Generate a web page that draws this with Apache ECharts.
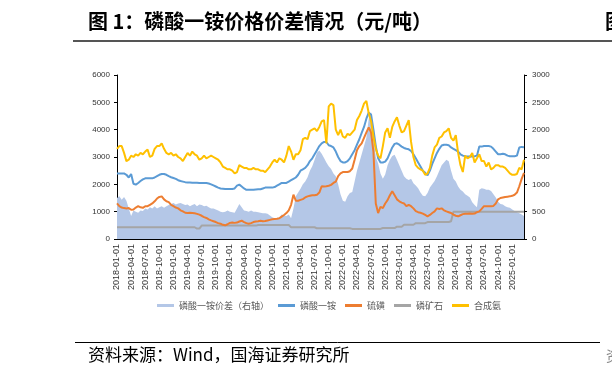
<!DOCTYPE html>
<html>
<head>
<meta charset="utf-8">
<script src="https://cdn.jsdelivr.net/npm/echarts@6/dist/echarts.min.js"></script>
<style>
html,body{margin:0;padding:0;background:#fff;}
#c{width:612px;height:379px;}
</style>
</head>
<body>
<div id="c"></div>
<script>
// ---- categories: semi-monthly dates 2018-01-01 .. 2025-03-15 ----
const dates = [];
(function(){
  for (let y = 2018; y <= 2025; y++) {
    for (let m = 1; m <= 12; m++) {
      for (const d of ['01','15']) {
        if (dates.length < 174) dates.push(y + '-' + String(m).padStart(2,'0') + '-' + d);
      }
    }
  }
})();

// ---- series values (yuan/ton) ----
const mapPrice = [
  2400,2400,2400,2400,2350,2250,2380,2020,1990,2050,2120,2180,2220,2220,2220,2220,2250,2300,2350,2380,2380,2350,2300,2260,
  2230,2200,2150,2120,2100,2080,2070,2070,2060,2060,2060,2050,2050,2050,2050,2030,2000,1960,1920,1880,1850,1840,1830,1830,
  1830,1830,1850,1950,1990,1920,1850,1800,1800,1800,1800,1810,1820,1820,1850,1880,1880,1880,1880,1900,1950,2000,2050,2050,
  2050,2100,2150,2200,2250,2350,2500,2550,2600,2700,2850,2950,3100,3250,3400,3500,3550,3550,3430,3400,3350,3200,3000,2850,
  2800,2800,2850,2950,3100,3250,3450,3650,3880,4100,4400,4620,4550,4000,3400,2950,2800,2800,2830,2950,3150,3350,3480,3500,
  3450,3380,3330,3300,3280,3220,3100,2950,2800,2650,2500,2420,2330,2500,2750,2950,3150,3300,3420,3450,3450,3430,3350,3300,
  3250,3200,3100,3050,3030,3020,3020,3020,3030,3050,3380,3380,3400,3400,3400,3380,3300,3200,3100,3100,3120,3100,3050,3030,
  3030,3030,3050,3350,3370,3360
];
const sulfur = [
  1300,1200,1150,1130,1120,1130,1070,1080,1150,1200,1160,1140,1200,1200,1250,1300,1380,1480,1540,1560,1450,1380,1350,1250,
  1200,1150,1120,1050,1010,960,950,960,950,940,920,890,850,800,770,720,680,650,620,580,560,520,500,540,
  590,600,590,600,640,670,620,580,560,580,620,640,650,670,650,660,680,700,720,730,740,760,820,880,
  950,1050,1250,1620,1400,1400,1430,1460,1520,1560,1580,1600,1600,1620,1700,1930,1920,1930,1950,1980,2050,2100,2300,2400,
  2450,2450,2450,2480,2580,2900,3250,3400,3500,3700,3900,4080,3900,3200,1300,950,1180,1130,1300,1420,1600,1750,1600,1450,
  1380,1330,1300,1200,1250,1200,1120,1020,980,960,930,880,830,880,950,1010,1120,1100,1120,1050,1010,980,950,890,
  850,830,870,910,920,920,930,920,930,980,1010,1100,1200,1200,1200,1200,1210,1300,1450,1500,1520,1540,1550,1560,
  1580,1620,1700,1930,2200,2420
];
const phosRock = [
  430,430,430,430,430,430,430,430,430,430,430,430,430,430,430,430,430,430,430,430,430,430,430,430,
  430,430,430,430,430,430,430,430,430,430,380,380,490,490,490,490,490,490,490,490,490,490,490,490,
  490,490,490,490,490,490,490,490,490,490,490,490,510,510,510,510,510,510,510,510,510,510,510,510,
  510,510,430,430,430,430,430,430,430,430,430,430,430,390,390,390,390,390,390,390,390,390,390,390,
  390,390,390,390,370,370,370,370,370,370,370,370,370,370,370,370,370,400,400,400,400,400,400,450,
  450,450,520,520,520,520,520,580,580,580,580,580,620,620,620,620,620,620,620,620,620,620,650,1000,
  1000,1000,1000,1000,1000,1000,1000,1000,1000,1000,1000,1000,1000,1000,1000,1000,1000,1000,1000,1000,1000,1000,1000,1000,
  1000,1000,1000,1000,1000,1000
];
const ammonia = [
  3300,3400,3400,3150,2850,2900,3050,3000,3100,3050,3150,3100,3200,3270,3000,3050,3300,3400,3400,3500,3300,3150,3100,3150,
  3050,3100,3000,2950,2850,3000,3150,3050,3200,3100,3050,2900,2950,3050,2950,3000,3050,3000,2950,2900,2800,2650,2600,2550,
  2550,2500,2400,2450,2700,2650,2600,2600,2550,2550,2600,2550,2550,2500,2500,2450,2550,2650,2800,2900,2800,2950,2900,2800,
  3050,3400,3200,2900,3100,3100,3250,3650,3700,3650,3950,4000,4050,3950,4100,4300,4350,3500,4850,4950,4900,4000,3800,4000,
  3750,3700,3850,3800,3900,4000,4350,4500,4700,4950,5050,4600,4300,3750,3300,3050,2950,3400,3900,4050,3700,4100,4300,4450,
  4150,3900,3950,4150,4350,3550,3000,2700,2600,2550,2500,2350,2400,2600,3050,3350,3450,3700,3750,3900,3950,4050,3700,3600,
  3800,3150,2700,2450,3050,2950,3000,3150,2800,2950,3100,2850,2850,2650,2800,2550,2600,2700,2700,2650,2650,2600,2500,2400,
  2350,2350,2380,2600,2550,2900
];
// spread, right axis
const spread = [
  750,780,720,770,700,560,420,520,500,480,520,510,560,540,580,560,600,560,580,600,570,600,620,640,
  660,630,650,660,640,620,630,600,620,640,600,630,620,600,610,580,560,560,540,520,500,490,500,520,
  500,490,480,560,640,580,520,510,500,520,500,500,490,480,470,470,460,430,400,380,370,400,450,430,
  420,450,380,560,780,850,920,1000,1050,1130,1250,1330,1450,1580,1620,1560,1480,1400,1330,1280,1200,1150,1000,820,
  700,680,780,840,860,1050,1250,1400,1550,1700,1850,2200,2320,1900,1500,1380,1200,1100,1180,1350,1450,1520,1540,1450,
  1350,1250,1150,1100,1080,1100,1020,980,930,850,790,780,840,940,1000,1060,1150,1250,1350,1400,1450,1420,1250,1100,
  1050,960,900,870,820,790,760,670,620,580,900,930,920,900,900,880,820,760,680,640,630,600,580,570,
  540,510,490,470,450,420
];
const seriesNames = ['磷酸一铵价差（右轴）','磷酸一铵','硫磺','磷矿石','合成氨'];
const leftTicks = {min:0, max:6000, interval:1000};
const rightTicks = {min:0, max:3000, interval:500};

const isQuarterStart = function(idx, val){
  const v = dates[idx];
  return /-(01|04|07|10)-01$/.test(v);
};
const plain = function(v){ return String(v); };

const chart = echarts.init(document.getElementById('c'), null, {renderer:'canvas'});
const axisFont = 'Liberation Sans, Arial, sans-serif';
chart.setOption({
  animation:false,
  backgroundColor:'#fff',
  grid:{left:117, right:88, top:75, bottom:140},
  legend:{
    data:seriesNames,
    left:152, top:296,
    icon:'rect', itemWidth:17, itemHeight:3, itemGap:9,
    textStyle:{fontSize:9, color:'#595959', fontFamily:'Noto Sans CJK SC'}
  },
  xAxis:{
    type:'category', data:dates, boundaryGap:false,
    axisLine:{lineStyle:{color:'#000', width:1}},
    axisTick:{interval:isQuarterStart, inside:true, length:3, lineStyle:{color:'#000'}},
    axisLabel:{interval:isQuarterStart, rotate:90, fontSize:9, color:'#333', margin:5, fontFamily:axisFont},
    splitLine:{show:false}
  },
  yAxis:[
    {type:'value', min:leftTicks.min, max:leftTicks.max, interval:leftTicks.interval,
     axisLine:{show:true, lineStyle:{color:'#000'}},
     axisTick:{show:true, length:3, lineStyle:{color:'#000'}},
     axisLabel:{fontSize:8, color:'#333', margin:7, fontFamily:axisFont, formatter:plain},
     splitLine:{show:false}},
    {type:'value', position:'right', min:rightTicks.min, max:rightTicks.max, interval:rightTicks.interval,
     axisLine:{show:true, lineStyle:{color:'#000'}},
     axisTick:{show:true, length:3, lineStyle:{color:'#000'}},
     axisLabel:{fontSize:8, color:'#333', margin:8, fontFamily:axisFont, formatter:plain},
     splitLine:{show:false}}
  ],
  series:[
    {name:seriesNames[0], type:'line', yAxisIndex:1, data:spread, symbol:'none',
     lineStyle:{width:0}, itemStyle:{color:'#B4C7E7'}, areaStyle:{color:'#B4C7E7', opacity:1}, z:1},
    {name:seriesNames[1], type:'line', data:mapPrice, symbol:'none',
     lineStyle:{width:2, color:'#5B9BD5'}, itemStyle:{color:'#5B9BD5'}, z:3},
    {name:seriesNames[2], type:'line', data:sulfur, symbol:'none',
     lineStyle:{width:2, color:'#ED7D31'}, itemStyle:{color:'#ED7D31'}, z:3},
    {name:seriesNames[3], type:'line', data:phosRock, symbol:'none',
     lineStyle:{width:2, color:'#A5A5A5'}, itemStyle:{color:'#A5A5A5'}, z:2},
    {name:seriesNames[4], type:'line', data:ammonia, symbol:'none',
     lineStyle:{width:2, color:'#FFC000'}, itemStyle:{color:'#FFC000'}, z:4}
  ],
  graphic:[
    {type:'text', left:88, top:11, style:{text:'图 1：磷酸一铵价格价差情况（元/吨）', font:'bold 20px "Noto Sans CJK SC"', fill:'#000'}},
    {type:'line', shape:{x1:73, y1:41, x2:612, y2:41}, style:{stroke:'#555', lineWidth:1.8}},
    {type:'text', left:605, top:11, style:{text:'图', font:'bold 20px "Noto Sans CJK SC"', fill:'#000'}},
    {type:'line', shape:{x1:75, y1:342.5, x2:600, y2:342.5}, style:{stroke:'#000', lineWidth:1}},
    {type:'text', left:88, top:346, style:{text:'资料来源：Wind，国海证券研究所', font:'17px "Noto Sans CJK SC"', fill:'#000'}},
    {type:'text', left:606, top:349, style:{text:'资', font:'14px "Noto Sans CJK SC"', fill:'#888'}}
  ]
});
</script>
</body>
</html>
